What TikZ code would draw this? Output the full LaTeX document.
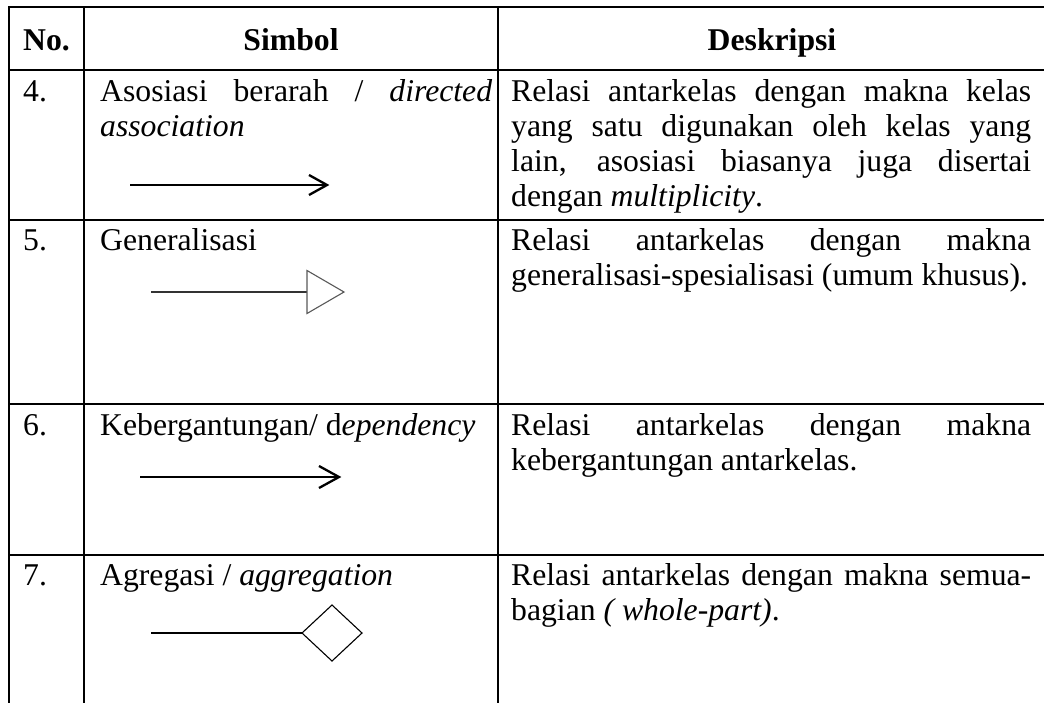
\documentclass[tikz,border=0pt]{standalone}
\usepackage{fontspec}
\setmainfont{Liberation Serif}
\usetikzlibrary{calc}
\begin{document}
\begin{tikzpicture}[x=1pt,y=-1pt,
  rule/.style={line width=2pt, black, line cap=rect},
  txt/.style={anchor=base west, inner sep=0pt, font=\fontsize{31.7}{35}\selectfont},
  head/.style={anchor=base, inner sep=0pt, font=\fontsize{31.7}{35}\selectfont\bfseries},
  link/.style={line width=2.3pt, black},
  tiphead/.style={line width=2.3pt, black, line join=miter, line cap=butt},
  glink/.style={line width=2pt, black!80},
  gtri/.style={line width=1.1pt, black!65, fill=white, line join=miter},
  dmd/.style={line width=1.1pt, black, fill=white, line join=miter}
]
\useasboundingbox (0,0) rectangle (1044,702);

% table rules
\foreach \yy in {7,70,220,404,555}
  \draw[rule] (9,\yy) -- (1044,\yy);
\foreach \xx in {9,84,498}
  \draw[rule] (\xx,7) -- (\xx,702);

% header
\node[txt, font=\fontsize{31.7}{35}\selectfont\bfseries] (hno) at (23,50) {No.};
\node[head] (hsym) at (291,50) {Simbol};
\node[head] (hdesc) at (772,50) {Deskripsi};

% row 4
\node[txt] (n4) at (23,101) {4.};
\node[txt] (s4a) at (100,101) {\makebox[392pt][s]{Asosiasi berarah / \textit{directed}}};
\node[txt] (s4b) at (100,136) {\textit{association}};
\node[txt] (d4a) at (511,101) {\makebox[520pt][s]{Relasi antarkelas dengan makna kelas}};
\node[txt] (d4b) at (511,136) {\makebox[520pt][s]{yang satu digunakan oleh kelas yang}};
\node[txt] (d4c) at (511,171) {\makebox[520pt][s]{lain, asosiasi biasanya juga disertai}};
\node[txt] (d4d) at (511,206) {dengan \textit{multiplicity}.};

\coordinate (a4s) at (130,185);
\coordinate (a4e) at (327,185);
\draw[link] (a4s) -- (a4e);
\draw[tiphead] ($(a4e)+(-18,-10)$) -- (a4e) -- ($(a4e)+(-18,10)$);

% row 5
\node[txt] (n5) at (23,250) {5.};
\node[txt] (s5a) at (100,250) {Generalisasi};
\node[txt] (d5a) at (511,250) {\makebox[520pt][s]{Relasi antarkelas dengan makna}};
\node[txt] (d5b) at (511,285) {generalisasi-spesialisasi (umum khusus).};

\coordinate (g5s) at (151,292);
\coordinate (g5e) at (307,292);
\draw[glink] (g5s) -- (g5e);
\draw[gtri] (g5e) -- ++(0,-21.5) -- ++(37,21.5) -- ++(-37,21.5) -- cycle;

% row 6
\node[txt] (n6) at (23,435) {6.};
\node[txt] (s6a) at (100,435) {Kebergantungan/ d\textit{ependency}};
\node[txt] (d6a) at (511,435) {\makebox[520pt][s]{Relasi antarkelas dengan makna}};
\node[txt] (d6b) at (511,470) {kebergantungan antarkelas.};

\coordinate (a6s) at (140,477);
\coordinate (a6e) at (339,477);
\draw[link] (a6s) -- (a6e);
\draw[tiphead] ($(a6e)+(-20,-11)$) -- (a6e) -- ($(a6e)+(-20,11)$);

% row 7
\node[txt] (n7) at (23,585) {7.};
\node[txt] (s7a) at (100,585) {Agregasi / \textit{aggregation}};
\node[txt] (d7a) at (511,585) {\makebox[520pt][s]{Relasi antarkelas dengan makna semua-}};
\node[txt] (d7b) at (511,620) {bagian \textit{( whole-part)}.};

\coordinate (ag7s) at (151,633);
\coordinate (ag7e) at (302,633);
\draw[link] (ag7s) -- (ag7e);
\draw[dmd] (ag7e) -- ++(30,-28) -- ++(30,28) -- ++(-30,28) -- cycle;
\end{tikzpicture}
\end{document}
